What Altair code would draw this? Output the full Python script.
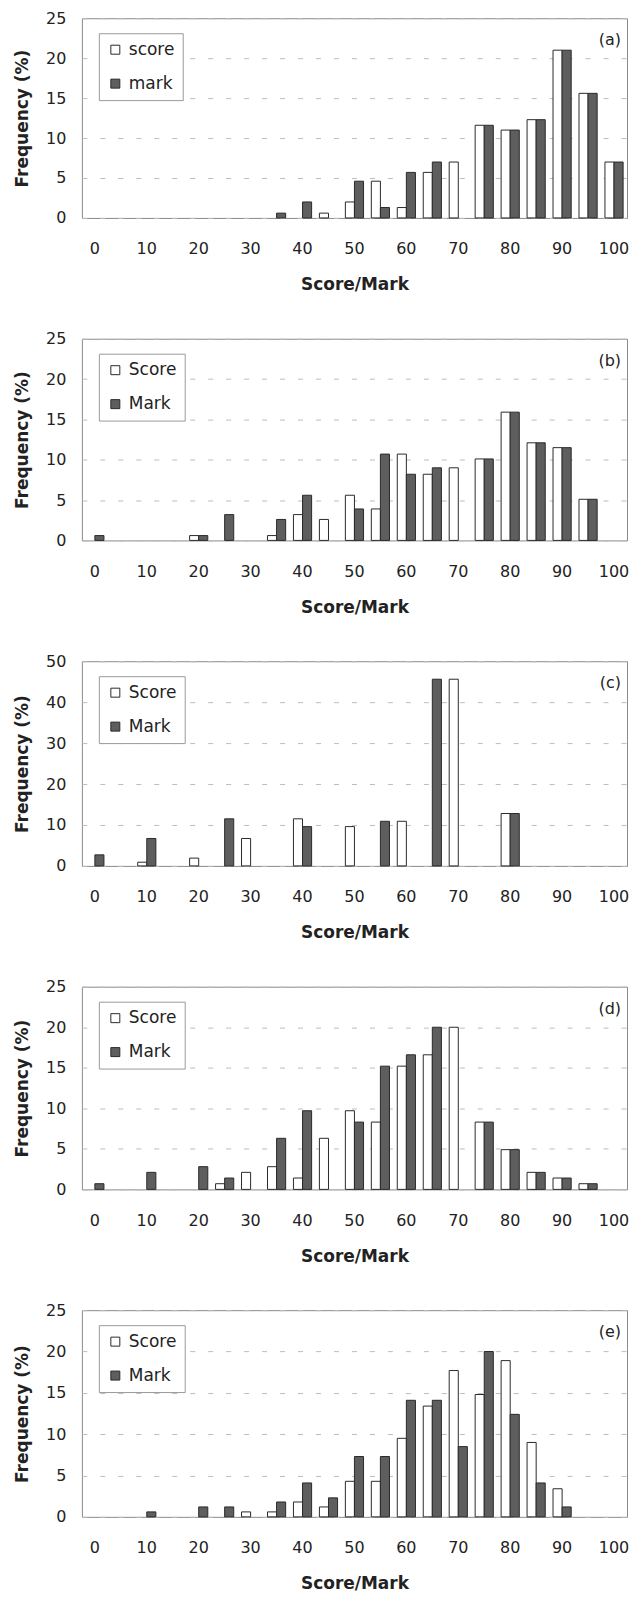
import altair as alt
import pandas as pd

FONT = "DejaVu Sans"
WIDTH = 546

bins = list(range(0, 101, 5))

a_score = [0, 0, 0, 0, 0, 0, 0, 0, 0, 0.6, 2.0, 4.6, 1.3, 5.7, 7.0, 11.6, 11.0, 12.3, 21.0, 15.6, 7.0]
a_mark = [0, 0, 0, 0, 0, 0, 0, 0.6, 2.0, 0, 4.6, 1.3, 5.7, 7.0, 0, 11.6, 11.0, 12.3, 21.0, 15.6, 7.0]

b_score = [0, 0, 0, 0, 0.6, 0, 0, 0.6, 3.2, 2.6, 5.6, 3.9, 10.7, 8.2, 9.0, 10.1, 15.9, 12.1, 11.5, 5.1, 0]
b_mark = [0.6, 0, 0, 0, 0.6, 3.2, 0, 2.6, 5.6, 0, 3.9, 10.7, 8.2, 9.0, 0, 10.1, 15.9, 12.1, 11.5, 5.1, 0]

c_score = [0, 0, 0.9, 0, 1.9, 0, 6.7, 0, 11.5, 0, 9.6, 0, 10.9, 0, 45.6, 0, 12.8, 0, 0, 0, 0]
c_mark = [2.7, 0, 6.7, 0, 0, 11.5, 0, 0, 9.6, 0, 0, 10.9, 0, 45.6, 0, 0, 12.8, 0, 0, 0, 0]

d_score = [0, 0, 0, 0, 0, 0.7, 2.1, 2.8, 1.4, 6.3, 9.7, 8.3, 15.2, 16.6, 20.0, 8.3, 4.9, 2.1, 1.4, 0.7, 0]
d_mark = [0.7, 0, 2.1, 0, 2.8, 1.4, 0, 6.3, 9.7, 0, 8.3, 15.2, 16.6, 20.0, 0, 8.3, 4.9, 2.1, 1.4, 0.7, 0]

e_score = [0, 0, 0, 0, 0, 0, 0.6, 0.6, 1.8, 1.2, 4.3, 4.3, 9.5, 13.4, 17.7, 14.8, 18.9, 9.0, 3.4, 0, 0]
e_mark = [0, 0, 0.6, 0, 1.2, 1.2, 0, 1.8, 4.1, 2.3, 7.3, 7.3, 14.1, 14.1, 8.5, 20.0, 12.4, 4.1, 1.2, 0, 0]

tags = ["(a)", "(b)", "(c)", "(d)", "(e)"]
series_names = [["score", "mark"], ["Score", "Mark"], ["Score", "Mark"], ["Score", "Mark"], ["Score", "Mark"]]
y_max = [25, 25, 50, 25, 25]
y_step = [5, 5, 10, 5, 5]
heights = [200, 202, 205, 203, 207]
scores = [a_score, b_score, c_score, d_score, e_score]
marks = [a_mark, b_mark, c_mark, d_mark, e_mark]


def panel(tag, score, mark, names, ymax, ystep, h):
    rows = []
    for b, s, m in zip(bins, score, mark):
        rows.append({"bin": b, "series": names[0], "value": s})
        rows.append({"bin": b, "series": names[1], "value": m})
    df = pd.DataFrame(rows)
    bars = alt.Chart(df).transform_filter("datum.value > 0").mark_bar(
        stroke="#2a2a2a", strokeWidth=1
    ).encode(
        x=alt.X(
            "bin:O",
            scale=alt.Scale(domain=bins, paddingInner=0.3, paddingOuter=0.15),
            axis=alt.Axis(
                title="Score/Mark",
                labelAngle=0,
                labelExpr="datum.value % 10 == 0 ? datum.label : ''",
                labelPadding=23,
                titlePadding=20,
                grid=False,
            ),
        ),
        xOffset=alt.XOffset("series:N", scale=alt.Scale(domain=names, paddingInner=0, paddingOuter=0)),
        y=alt.Y(
            "value:Q",
            scale=alt.Scale(domain=[0, ymax], nice=False),
            axis=alt.Axis(
                title="Frequency (%)",
                values=list(range(0, ymax + 1, ystep)),
                grid=True,
                gridColor="#bdbdbd",
                gridDash=[5, 13],
                gridWidth=1,
                labelPadding=16,
                titlePadding=14,
            ),
        ),
        color=alt.Color(
            "series:N",
            scale=alt.Scale(domain=names, range=["#ffffff", "#5e5e5e"]),
            legend=alt.Legend(
                title=None,
                orient="none",
                legendX=17,
                legendY=15,
                direction="vertical",
                symbolType="square",
                symbolSize=81,
                symbolStrokeColor="#2a2a2a",
                symbolStrokeWidth=1,
                labelFont=FONT,
                labelFontSize=17,
                labelColor="#222",
                labelOffset=5,
                rowPadding=16,
                padding=8,
                strokeColor="#9a9a9a",
                fillColor="#ffffff",
            ),
        ),
    )
    tag_text = alt.Chart(alt.Data(values=[{"t": tag}])).mark_text(
        align="right", baseline="middle", fontSize=16, font=FONT, color="#222"
    ).encode(x=alt.value(WIDTH - 6), y=alt.value(22), text="t:N")
    return alt.layer(bars, tag_text).properties(width=WIDTH, height=h)


panels = [
    panel(tags[i], scores[i], marks[i], series_names[i], y_max[i], y_step[i], heights[i])
    for i in range(5)
]

chart = (
    alt.vconcat(*panels, spacing=36)
    .resolve_scale(color="independent", x="independent", y="independent", xOffset="independent")
    .resolve_legend(color="independent")
    .properties(padding={"left": 5, "top": 0, "right": 5, "bottom": 0})
    .configure_view(stroke="#8a8a8a", strokeWidth=1)
    .configure_axis(
        labelFont=FONT,
        titleFont=FONT,
        labelFontSize=16,
        titleFontSize=17,
        titleFontWeight="bold",
        labelColor="#222",
        titleColor="#222",
        domain=False,
        ticks=False,
        tickSize=0,
    )
)

chart.save("out.html", embed_options={"renderer": "svg", "actions": False})
